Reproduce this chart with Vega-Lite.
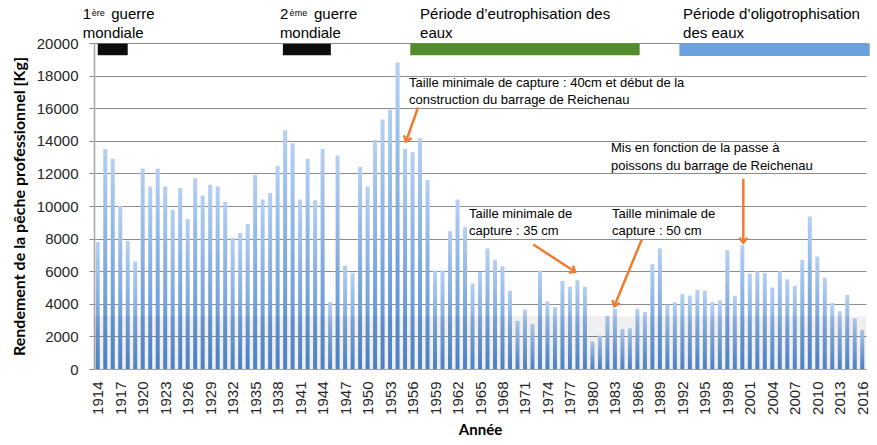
{
  "$schema": "https://vega.github.io/schema/vega-lite/v6.json",
  "autosize": {"type": "none"},
  "padding": {"left": 94, "top": 43, "right": 11, "bottom": 76},
  "width": 772,
  "height": 326,
  "background": "white",
  "config": {
    "view": {"stroke": null},
    "axis": {"labelFont": "Liberation Sans", "titleFont": "Lato"},
    "axisX": {
      "labelAngle": -90, "labelFontSize": 15, "labelColor": "#262626", "labelPadding": 12,
      "labelFlush": false, "labelOverlap": false, "ticks": false, "tickSize": 0, "grid": false,
      "domainColor": "#a0a0a0", "domainWidth": 1,
      "titleFontSize": 15, "titleFontWeight": "bold", "titleColor": "#000000", "titlePadding": 8
    },
    "axisY": {
      "labelFontSize": 15, "labelColor": "#262626", "labelPadding": 11, "labelOverlap": false,
      "tickSize": 5, "tickColor": "#8c8c8c", "grid": true, "gridColor": "#8c8c8c", "gridWidth": 1,
      "domainColor": "#a6a6a6", "domainWidth": 1.5,
      "titleFontSize": 16, "titleFontWeight": "bold", "titleColor": "#000000", "titlePadding": 9
    }
  },
  "datasets": {
    "catch": [
      {"year": 1914, "kg": 7800}, {"year": 1915, "kg": 13500}, {"year": 1916, "kg": 12900}, {"year": 1917, "kg": 10000},
      {"year": 1918, "kg": 7850}, {"year": 1919, "kg": 6600}, {"year": 1920, "kg": 12300}, {"year": 1921, "kg": 11200},
      {"year": 1922, "kg": 12300}, {"year": 1923, "kg": 11200}, {"year": 1924, "kg": 9750}, {"year": 1925, "kg": 11100},
      {"year": 1926, "kg": 9200}, {"year": 1927, "kg": 11700}, {"year": 1928, "kg": 10650}, {"year": 1929, "kg": 11300},
      {"year": 1930, "kg": 11200}, {"year": 1931, "kg": 10250}, {"year": 1932, "kg": 8050}, {"year": 1933, "kg": 8350},
      {"year": 1934, "kg": 8900}, {"year": 1935, "kg": 11900}, {"year": 1936, "kg": 10400}, {"year": 1937, "kg": 10800},
      {"year": 1938, "kg": 12450}, {"year": 1939, "kg": 14650}, {"year": 1940, "kg": 13850}, {"year": 1941, "kg": 10400},
      {"year": 1942, "kg": 12900}, {"year": 1943, "kg": 10350}, {"year": 1944, "kg": 13500}, {"year": 1945, "kg": 4100},
      {"year": 1946, "kg": 13100}, {"year": 1947, "kg": 6350}, {"year": 1948, "kg": 5900}, {"year": 1949, "kg": 12400},
      {"year": 1950, "kg": 11200}, {"year": 1951, "kg": 14050}, {"year": 1952, "kg": 15300}, {"year": 1953, "kg": 15900},
      {"year": 1954, "kg": 18800}, {"year": 1955, "kg": 13500}, {"year": 1956, "kg": 13300}, {"year": 1957, "kg": 14150},
      {"year": 1958, "kg": 11600}, {"year": 1959, "kg": 6050}, {"year": 1960, "kg": 6050}, {"year": 1961, "kg": 8450},
      {"year": 1962, "kg": 10400}, {"year": 1963, "kg": 8700}, {"year": 1964, "kg": 5250}, {"year": 1965, "kg": 5950},
      {"year": 1966, "kg": 7400}, {"year": 1967, "kg": 6700}, {"year": 1968, "kg": 6300}, {"year": 1969, "kg": 4800},
      {"year": 1970, "kg": 2950}, {"year": 1971, "kg": 3650}, {"year": 1972, "kg": 2750}, {"year": 1973, "kg": 6050},
      {"year": 1974, "kg": 4150}, {"year": 1975, "kg": 3800}, {"year": 1976, "kg": 5400}, {"year": 1977, "kg": 5050},
      {"year": 1978, "kg": 5450}, {"year": 1979, "kg": 5050}, {"year": 1980, "kg": 1700}, {"year": 1981, "kg": 2050},
      {"year": 1982, "kg": 3250}, {"year": 1983, "kg": 3700}, {"year": 1984, "kg": 2450}, {"year": 1985, "kg": 2500},
      {"year": 1986, "kg": 3700}, {"year": 1987, "kg": 3500}, {"year": 1988, "kg": 6450}, {"year": 1989, "kg": 7400},
      {"year": 1990, "kg": 3950}, {"year": 1991, "kg": 4100}, {"year": 1992, "kg": 4600}, {"year": 1993, "kg": 4500},
      {"year": 1994, "kg": 4850}, {"year": 1995, "kg": 4800}, {"year": 1996, "kg": 4100}, {"year": 1997, "kg": 4200},
      {"year": 1998, "kg": 7300}, {"year": 1999, "kg": 4500}, {"year": 2000, "kg": 7600}, {"year": 2001, "kg": 5850},
      {"year": 2002, "kg": 6000}, {"year": 2003, "kg": 5900}, {"year": 2004, "kg": 5000}, {"year": 2005, "kg": 6000},
      {"year": 2006, "kg": 5500}, {"year": 2007, "kg": 5100}, {"year": 2008, "kg": 6700}, {"year": 2009, "kg": 9350},
      {"year": 2010, "kg": 6900}, {"year": 2011, "kg": 5600}, {"year": 2012, "kg": 4050}, {"year": 2013, "kg": 3550},
      {"year": 2014, "kg": 4550}, {"year": 2015, "kg": 3100}, {"year": 2016, "kg": 2400}
    ],
    "shade": [
      {"start": 1913.5, "end": 2016.5, "lo": 0, "hi": 3240}
    ],
    "periods": [
      {"period": "guerre", "start": 1914, "end": 1918, "lo": 19250, "hi": 19960},
      {"period": "guerre", "start": 1938.7, "end": 1945.1, "lo": 19250, "hi": 19960},
      {"period": "eutrophisation", "start": 1955.7, "end": 1986.3, "lo": 19250, "hi": 19990},
      {"period": "oligotrophisation", "start": 1991.6, "end": 2017.0, "lo": 19200, "hi": 19990}
    ],
    "headers": [
      {"x": 1912.0, "y": 21442, "text": "1"},
      {"x": 1915.8, "y": 21442, "text": "guerre"},
      {"x": 1912.0, "y": 20337, "text": "mondiale"},
      {"x": 1938.3, "y": 21442, "text": "2"},
      {"x": 1942.85, "y": 21442, "text": "guerre"},
      {"x": 1938.3, "y": 20337, "text": "mondiale"},
      {"x": 1957.0, "y": 21442, "text": "Période d’eutrophisation des"},
      {"x": 1957.0, "y": 20337, "text": "eaux"},
      {"x": 1992.1, "y": 21442, "text": "Période d’oligotrophisation"},
      {"x": 1992.1, "y": 20337, "text": "des eaux"}
    ],
    "sups": [
      {"x": 1913.2, "y": 21630, "text": "ère"},
      {"x": 1939.6, "y": 21630, "text": "ème"}
    ],
    "notes": [
      {"x": 1955.53, "y": 17300, "text": "Taille minimale de capture : 40cm et début de la"},
      {"x": 1955.53, "y": 16258, "text": "construction du barrage de Reichenau"},
      {"x": 1963.53, "y": 9276, "text": "Taille minimale de"},
      {"x": 1963.53, "y": 8209, "text": "capture : 35 cm"},
      {"x": 1982.61, "y": 9276, "text": "Taille minimale de"},
      {"x": 1982.61, "y": 8209, "text": "capture : 50 cm"},
      {"x": 1982.48, "y": 13325, "text": "Mis en fonction de la passe à"},
      {"x": 1982.48, "y": 12239, "text": "poissons du barrage de Reichenau"}
    ],
    "arrows": [
      {"id": 1, "x": 1956.73, "y": 16043, "x2": 1955.13, "y2": 13957},
      {"id": 2, "x": 1972.11, "y": 7638, "x2": 1977.68, "y2": 5963},
      {"id": 3, "x": 1986.58, "y": 7945, "x2": 1982.92, "y2": 3853},
      {"id": 4, "x": 2000.13, "y": 11669, "x2": 2000.13, "y2": 7742}
    ]
  },
  "layer": [
    {
      "data": {"name": "catch"},
      "mark": {
        "type": "bar",
        "size": 4,
        "fill": {
          "gradient": "linear", "x1": 0, "y1": 0, "x2": 0, "y2": 1,
          "stops": [{"offset": 0, "color": "#b5d0f3"}, {"offset": 1, "color": "#5089d1"}]
        }
      },
      "encoding": {
        "x": {"field": "year", "type": "quantitative",
          "scale": {"domain": [1913.5, 2016.5], "nice": false, "zero": false, "padding": 0},
          "axis": {"title": "Année", "format": "d", "values": [1914, 1917, 1920, 1923, 1926, 1929, 1932, 1935, 1938, 1941, 1944, 1947, 1950, 1953, 1956, 1959, 1962, 1965, 1968, 1971, 1974, 1977, 1980, 1983, 1986, 1989, 1992, 1995, 1998, 2001, 2004, 2007, 2010, 2013, 2016]}},
        "y": {"field": "kg", "type": "quantitative",
          "scale": {"domain": [0, 20000], "nice": false, "zero": false},
          "axis": {"title": "Rendement de la pêche professionnel [Kg]", "format": "d", "values": [0, 2000, 4000, 6000, 8000, 10000, 12000, 14000, 16000, 18000, 20000]}}
      }
    },
    {
      "data": {"name": "shade"},
      "mark": {"type": "rect", "fill": "#000000", "opacity": 0.06},
      "encoding": {
        "x": {"field": "start", "type": "quantitative",
          "scale": {"domain": [1913.5, 2016.5], "nice": false, "zero": false, "padding": 0},
          "axis": {"title": "Année", "format": "d", "values": [1914, 1917, 1920, 1923, 1926, 1929, 1932, 1935, 1938, 1941, 1944, 1947, 1950, 1953, 1956, 1959, 1962, 1965, 1968, 1971, 1974, 1977, 1980, 1983, 1986, 1989, 1992, 1995, 1998, 2001, 2004, 2007, 2010, 2013, 2016]}},
        "x2": {"field": "end"},
        "y": {"field": "lo", "type": "quantitative",
          "scale": {"domain": [0, 20000], "nice": false, "zero": false},
          "axis": {"title": "Rendement de la pêche professionnel [Kg]", "format": "d", "values": [0, 2000, 4000, 6000, 8000, 10000, 12000, 14000, 16000, 18000, 20000]}},
        "y2": {"field": "hi"}
      }
    },
    {
      "data": {"name": "periods"},
      "mark": {"type": "rect"},
      "encoding": {
        "x": {"field": "start", "type": "quantitative",
          "scale": {"domain": [1913.5, 2016.5], "nice": false, "zero": false, "padding": 0},
          "axis": {"title": "Année", "format": "d", "values": [1914, 1917, 1920, 1923, 1926, 1929, 1932, 1935, 1938, 1941, 1944, 1947, 1950, 1953, 1956, 1959, 1962, 1965, 1968, 1971, 1974, 1977, 1980, 1983, 1986, 1989, 1992, 1995, 1998, 2001, 2004, 2007, 2010, 2013, 2016]}},
        "x2": {"field": "end"},
        "y": {"field": "lo", "type": "quantitative",
          "scale": {"domain": [0, 20000], "nice": false, "zero": false},
          "axis": {"title": "Rendement de la pêche professionnel [Kg]", "format": "d", "values": [0, 2000, 4000, 6000, 8000, 10000, 12000, 14000, 16000, 18000, 20000]}},
        "y2": {"field": "hi"},
        "color": {
          "field": "period", "type": "nominal", "legend": null,
          "scale": {"domain": ["guerre", "eutrophisation", "oligotrophisation"], "range": ["#0d0d0d", "#548b2b", "#6aa1de"]}
        }
      }
    },
    {
      "data": {"name": "headers"},
      "mark": {"type": "text", "align": "left", "baseline": "alphabetic", "font": "Liberation Sans", "fontSize": 15, "color": "#000000"},
      "encoding": {
        "x": {"field": "x", "type": "quantitative",
          "scale": {"domain": [1913.5, 2016.5], "nice": false, "zero": false, "padding": 0},
          "axis": {"title": "Année", "format": "d", "values": [1914, 1917, 1920, 1923, 1926, 1929, 1932, 1935, 1938, 1941, 1944, 1947, 1950, 1953, 1956, 1959, 1962, 1965, 1968, 1971, 1974, 1977, 1980, 1983, 1986, 1989, 1992, 1995, 1998, 2001, 2004, 2007, 2010, 2013, 2016]}},
        "y": {"field": "y", "type": "quantitative",
          "scale": {"domain": [0, 20000], "nice": false, "zero": false},
          "axis": {"title": "Rendement de la pêche professionnel [Kg]", "format": "d", "values": [0, 2000, 4000, 6000, 8000, 10000, 12000, 14000, 16000, 18000, 20000]}},
        "text": {"field": "text"}
      }
    },
    {
      "data": {"name": "sups"},
      "mark": {"type": "text", "align": "left", "baseline": "alphabetic", "font": "Liberation Sans", "fontSize": 9, "color": "#000000"},
      "encoding": {
        "x": {"field": "x", "type": "quantitative",
          "scale": {"domain": [1913.5, 2016.5], "nice": false, "zero": false, "padding": 0},
          "axis": {"title": "Année", "format": "d", "values": [1914, 1917, 1920, 1923, 1926, 1929, 1932, 1935, 1938, 1941, 1944, 1947, 1950, 1953, 1956, 1959, 1962, 1965, 1968, 1971, 1974, 1977, 1980, 1983, 1986, 1989, 1992, 1995, 1998, 2001, 2004, 2007, 2010, 2013, 2016]}},
        "y": {"field": "y", "type": "quantitative",
          "scale": {"domain": [0, 20000], "nice": false, "zero": false},
          "axis": {"title": "Rendement de la pêche professionnel [Kg]", "format": "d", "values": [0, 2000, 4000, 6000, 8000, 10000, 12000, 14000, 16000, 18000, 20000]}},
        "text": {"field": "text"}
      }
    },
    {
      "data": {"name": "notes"},
      "mark": {"type": "text", "align": "left", "baseline": "alphabetic", "font": "Liberation Sans", "fontSize": 13, "color": "#000000"},
      "encoding": {
        "x": {"field": "x", "type": "quantitative",
          "scale": {"domain": [1913.5, 2016.5], "nice": false, "zero": false, "padding": 0},
          "axis": {"title": "Année", "format": "d", "values": [1914, 1917, 1920, 1923, 1926, 1929, 1932, 1935, 1938, 1941, 1944, 1947, 1950, 1953, 1956, 1959, 1962, 1965, 1968, 1971, 1974, 1977, 1980, 1983, 1986, 1989, 1992, 1995, 1998, 2001, 2004, 2007, 2010, 2013, 2016]}},
        "y": {"field": "y", "type": "quantitative",
          "scale": {"domain": [0, 20000], "nice": false, "zero": false},
          "axis": {"title": "Rendement de la pêche professionnel [Kg]", "format": "d", "values": [0, 2000, 4000, 6000, 8000, 10000, 12000, 14000, 16000, 18000, 20000]}},
        "text": {"field": "text"}
      }
    },
    {
      "data": {"name": "arrows"},
      "mark": {"type": "rule", "color": "#ed7d31", "strokeWidth": 2.5},
      "encoding": {
        "x": {"field": "x", "type": "quantitative",
          "scale": {"domain": [1913.5, 2016.5], "nice": false, "zero": false, "padding": 0},
          "axis": {"title": "Année", "format": "d", "values": [1914, 1917, 1920, 1923, 1926, 1929, 1932, 1935, 1938, 1941, 1944, 1947, 1950, 1953, 1956, 1959, 1962, 1965, 1968, 1971, 1974, 1977, 1980, 1983, 1986, 1989, 1992, 1995, 1998, 2001, 2004, 2007, 2010, 2013, 2016]}},
        "y": {"field": "y", "type": "quantitative",
          "scale": {"domain": [0, 20000], "nice": false, "zero": false},
          "axis": {"title": "Rendement de la pêche professionnel [Kg]", "format": "d", "values": [0, 2000, 4000, 6000, 8000, 10000, 12000, 14000, 16000, 18000, 20000]}},
        "x2": {"field": "x2"},
        "y2": {"field": "y2"}
      }
    },
    {
      "data": {"name": "arrows"},
      "transform": [{"filter": "datum.id == 1"}],
      "mark": {"type": "point", "shape": "M-0.8,-1L0,0L0.8,-1", "filled": false, "stroke": "#ed7d31", "strokeWidth": 2.5, "size": 100, "angle": 20, "opacity": 1},
      "encoding": {
        "x": {"field": "x2", "type": "quantitative",
          "scale": {"domain": [1913.5, 2016.5], "nice": false, "zero": false, "padding": 0},
          "axis": {"title": "Année", "format": "d", "values": [1914, 1917, 1920, 1923, 1926, 1929, 1932, 1935, 1938, 1941, 1944, 1947, 1950, 1953, 1956, 1959, 1962, 1965, 1968, 1971, 1974, 1977, 1980, 1983, 1986, 1989, 1992, 1995, 1998, 2001, 2004, 2007, 2010, 2013, 2016]}},
        "y": {"field": "y2", "type": "quantitative",
          "scale": {"domain": [0, 20000], "nice": false, "zero": false},
          "axis": {"title": "Rendement de la pêche professionnel [Kg]", "format": "d", "values": [0, 2000, 4000, 6000, 8000, 10000, 12000, 14000, 16000, 18000, 20000]}}
      }
    },
    {
      "data": {"name": "arrows"},
      "transform": [{"filter": "datum.id == 2"}],
      "mark": {"type": "point", "shape": "M-0.8,-1L0,0L0.8,-1", "filled": false, "stroke": "#ed7d31", "strokeWidth": 2.5, "size": 100, "angle": -57, "opacity": 1},
      "encoding": {
        "x": {"field": "x2", "type": "quantitative",
          "scale": {"domain": [1913.5, 2016.5], "nice": false, "zero": false, "padding": 0},
          "axis": {"title": "Année", "format": "d", "values": [1914, 1917, 1920, 1923, 1926, 1929, 1932, 1935, 1938, 1941, 1944, 1947, 1950, 1953, 1956, 1959, 1962, 1965, 1968, 1971, 1974, 1977, 1980, 1983, 1986, 1989, 1992, 1995, 1998, 2001, 2004, 2007, 2010, 2013, 2016]}},
        "y": {"field": "y2", "type": "quantitative",
          "scale": {"domain": [0, 20000], "nice": false, "zero": false},
          "axis": {"title": "Rendement de la pêche professionnel [Kg]", "format": "d", "values": [0, 2000, 4000, 6000, 8000, 10000, 12000, 14000, 16000, 18000, 20000]}}
      }
    },
    {
      "data": {"name": "arrows"},
      "transform": [{"filter": "datum.id == 3"}],
      "mark": {"type": "point", "shape": "M-0.8,-1L0,0L0.8,-1", "filled": false, "stroke": "#ed7d31", "strokeWidth": 2.5, "size": 100, "angle": 22, "opacity": 1},
      "encoding": {
        "x": {"field": "x2", "type": "quantitative",
          "scale": {"domain": [1913.5, 2016.5], "nice": false, "zero": false, "padding": 0},
          "axis": {"title": "Année", "format": "d", "values": [1914, 1917, 1920, 1923, 1926, 1929, 1932, 1935, 1938, 1941, 1944, 1947, 1950, 1953, 1956, 1959, 1962, 1965, 1968, 1971, 1974, 1977, 1980, 1983, 1986, 1989, 1992, 1995, 1998, 2001, 2004, 2007, 2010, 2013, 2016]}},
        "y": {"field": "y2", "type": "quantitative",
          "scale": {"domain": [0, 20000], "nice": false, "zero": false},
          "axis": {"title": "Rendement de la pêche professionnel [Kg]", "format": "d", "values": [0, 2000, 4000, 6000, 8000, 10000, 12000, 14000, 16000, 18000, 20000]}}
      }
    },
    {
      "data": {"name": "arrows"},
      "transform": [{"filter": "datum.id == 4"}],
      "mark": {"type": "point", "shape": "M-0.8,-1L0,0L0.8,-1", "filled": false, "stroke": "#ed7d31", "strokeWidth": 2.5, "size": 100, "angle": 0, "opacity": 1},
      "encoding": {
        "x": {"field": "x2", "type": "quantitative",
          "scale": {"domain": [1913.5, 2016.5], "nice": false, "zero": false, "padding": 0},
          "axis": {"title": "Année", "format": "d", "values": [1914, 1917, 1920, 1923, 1926, 1929, 1932, 1935, 1938, 1941, 1944, 1947, 1950, 1953, 1956, 1959, 1962, 1965, 1968, 1971, 1974, 1977, 1980, 1983, 1986, 1989, 1992, 1995, 1998, 2001, 2004, 2007, 2010, 2013, 2016]}},
        "y": {"field": "y2", "type": "quantitative",
          "scale": {"domain": [0, 20000], "nice": false, "zero": false},
          "axis": {"title": "Rendement de la pêche professionnel [Kg]", "format": "d", "values": [0, 2000, 4000, 6000, 8000, 10000, 12000, 14000, 16000, 18000, 20000]}}
      }
    }
  ]
}
